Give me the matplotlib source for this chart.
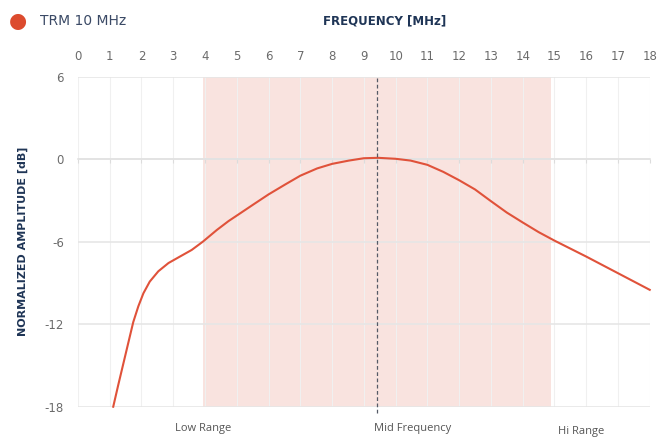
import matplotlib.pyplot as plt
import numpy as np

# values
freq_mhz = [1.11, 1.27, 1.43, 1.59, 1.74, 1.90, 2.06, 2.26, 2.53, 2.85, 3.21, 3.58,
            3.93, 4.37, 4.74, 5.0, 5.53, 6.0, 6.53, 7.0, 7.53, 8.0, 8.53, 9.0, 9.45,
            10.0, 10.47, 11.0, 11.5, 12.0, 12.5, 13.0, 13.5, 14.0, 14.5, 15.0, 15.5,
            16.0, 17.0, 18.0]
amp_db = [-18.0, -16.4, -14.85, -13.3, -11.85, -10.7, -9.75, -8.9, -8.15, -7.55, -7.08,
          -6.6, -6.0, -5.15, -4.5, -4.1, -3.28, -2.56, -1.83, -1.2, -0.67, -0.34, -0.1,
          0.07, 0.1, 0.03, -0.1, -0.41, -0.92, -1.53, -2.2, -3.05, -3.88, -4.6, -5.3,
          -5.92, -6.5, -7.08, -8.29, -9.5]
band_low, band_high = 3.95, 14.88
mid_freq = 9.42
x_ticks = list(range(0, 19))
y_ticks = [-18, -12, -6, 0, 6]

line_c = '#e0523a'
navy = '#1f3556'
grey = '#6b6b6b'

fig = plt.figure(figsize=(6.63, 4.37), dpi=100)
ax = fig.add_axes([0.1176, 0.0693, 0.8624, 0.7552])

ax.axvspan(band_low, band_high, color='#f9e3df', lw=0, zorder=0)
ax.plot(freq_mhz, amp_db, color=line_c, lw=1.5, zorder=3, clip_on=False,
        solid_joinstyle='round')
ax.axvline(mid_freq, ymin=-0.02, ymax=1, color='#555a66', lw=0.9, ls=(0, (3, 2)),
           zorder=4, clip_on=False)

ax.set_xlim(0, 18)
ax.set_ylim(-18, 6)
ax.set_yticks(y_ticks)
ax.set_yticklabels([str(v) for v in y_ticks])
ax.set_xticks(x_ticks)
ax.tick_params(axis='x', which='both', bottom=True, labelbottom=False, length=3,
               color='#dcdcdc', direction='out')
ax.tick_params(axis='y', length=0, pad=10, labelsize=8.5, labelcolor=grey)

for s in ['top', 'right', 'left']:
    ax.spines[s].set_visible(False)
ax.spines['bottom'].set_position(('data', 0))
ax.spines['bottom'].set_color('#e2e2e2')
ax.spines['bottom'].set_linewidth(1.2)

ax.grid(axis='y', color='#e6e6e6', lw=1.2, zorder=1)
ax.grid(axis='x', color='#f0f0f0', lw=0.8, zorder=1)
ax.set_axisbelow(True)

top = ax.secondary_xaxis('top')
top.set_xticks(x_ticks)
top.set_xticklabels([str(v) for v in x_ticks])
top.tick_params(length=0, pad=10, labelsize=8.5, labelcolor=grey)
for s in top.spines.values():
    s.set_visible(False)

ax.set_ylabel('NORMALIZED AMPLITUDE [dB]', fontsize=8, fontweight='bold',
              color=navy, labelpad=12)

fig.text(0.58, 0.951, 'FREQUENCY [MHz]', fontsize=8.5, fontweight='bold',
         color=navy, ha='center', va='center')
fig.text(0.027, 0.953, '\u25cf', fontsize=15, color='#dc4b2e', ha='center',
         va='center')
fig.text(0.06, 0.951, 'TRM 10 MHz', fontsize=10, color='#3b4a66', ha='left',
         va='center')

ax.text(band_low, -0.065, 'Low Range', transform=ax.get_xaxis_transform(),
        ha='center', va='center', fontsize=8, color='#555555', family='Open Sans')
ax.text(mid_freq - 0.1, -0.065, 'Mid Frequency', transform=ax.get_xaxis_transform(),
        ha='left', va='center', fontsize=8, color='#555555', family='Open Sans')
ax.text(15.1, -0.074, 'Hi Range', transform=ax.get_xaxis_transform(),
        ha='left', va='center', fontsize=8, color='#555555', family='Open Sans')

fig.savefig('out.png', dpi=100)
